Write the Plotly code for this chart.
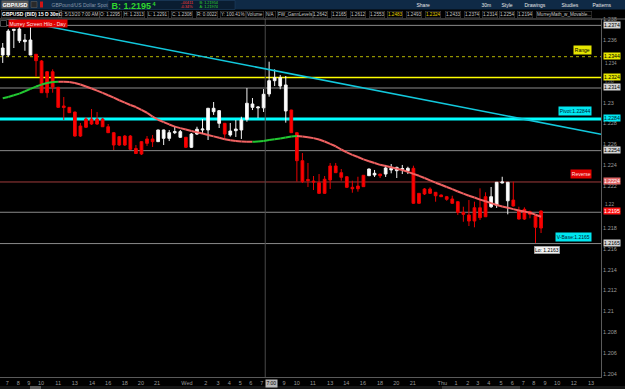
import plotly.graph_objects as go

# ---------------- data (GBP/USD 30m) ----------------
bar_index = list(range(98))
open_ = [1.23456, 1.23456, 1.23691, 1.23593, 1.23584, 1.23456, 1.23463, 1.23399, 1.23296, 1.23296,
         1.23147, 1.22968, 1.22955, 1.22910, 1.22776, 1.22843, 1.22843, 1.22843, 1.22843, 1.22769,
         1.22712, 1.22674, 1.22680, 1.22680, 1.22561, 1.22626, 1.22652, 1.22652, 1.22626, 1.22658,
         1.22658, 1.22712, 1.22668, 1.22668, 1.22572, 1.22699, 1.22738, 1.22738, 1.22913, 1.22802,
         1.22802, 1.22690, 1.22731, 1.22738, 1.22840, 1.22955, 1.22949, 1.22950, 1.23083, 1.23210,
         1.23159, 1.22920, 1.22929, 1.22712, 1.22444, 1.22264, 1.22249, 1.22233, 1.22266, 1.22393,
         1.22393, 1.22329, 1.22290, 1.22189, 1.22201, 1.22304, 1.22300, 1.22307, 1.22316, 1.22316,
         1.22355, 1.22348, 1.22359, 1.22348, 1.22371, 1.22131, 1.22173, 1.22173, 1.22141, 1.22115,
         1.22099, 1.22077, 1.22051, 1.21949, 1.21924, 1.21993, 1.21993, 1.22099, 1.22003, 1.22019,
         1.22230, 1.22060, 1.22067, 1.21962, 1.21978, 1.21955, 1.21914, 1.21962]
high_ = [1.23571, 1.23705, 1.23705, 1.23725, 1.23657, 1.23722, 1.23466, 1.23408, 1.23303, 1.23319,
         1.23150, 1.23054, 1.22958, 1.22913, 1.22805, 1.22862, 1.22939, 1.22910, 1.22853, 1.22795,
         1.22719, 1.22680, 1.22690, 1.22690, 1.22594, 1.22632, 1.22680, 1.22690, 1.22741, 1.22741,
         1.22738, 1.22776, 1.22738, 1.22671, 1.22709, 1.22769, 1.22843, 1.22949, 1.23006, 1.22929,
         1.22805, 1.22805, 1.22834, 1.22865, 1.23140, 1.23044, 1.22961, 1.23130, 1.23392, 1.23319,
         1.23265, 1.23255, 1.22932, 1.22719, 1.22517, 1.22422, 1.22297, 1.22316, 1.22297, 1.22422,
         1.22422, 1.22364, 1.22297, 1.22252, 1.22290, 1.22307, 1.22369, 1.22355, 1.22316, 1.22403,
         1.22412, 1.22386, 1.22403, 1.22386, 1.22396, 1.22134, 1.22182, 1.22189, 1.22144, 1.22120,
         1.22106, 1.22108, 1.22058, 1.22003, 1.22067, 1.22051, 1.22179, 1.22141, 1.22192, 1.22240,
         1.22290, 1.22240, 1.22243, 1.22003, 1.21997, 1.21965, 1.21924, 1.21967]
low_ = [1.23380, 1.23437, 1.23523, 1.23571, 1.23497, 1.23456, 1.23248, 1.23092, 1.23047, 1.23095,
        1.22949, 1.22834, 1.22901, 1.22675, 1.22671, 1.22757, 1.22786, 1.22786, 1.22767, 1.22709,
        1.22546, 1.22585, 1.22585, 1.22546, 1.22508, 1.22498, 1.22585, 1.22575, 1.22623, 1.22594,
        1.22632, 1.22699, 1.22661, 1.22565, 1.22565, 1.22690, 1.22699, 1.22642, 1.22882, 1.22757,
        1.22642, 1.22674, 1.22671, 1.22652, 1.22817, 1.22929, 1.22853, 1.22910, 1.23057, 1.23159,
        1.23128, 1.22808, 1.22709, 1.22243, 1.22230, 1.22192, 1.22163, 1.22125, 1.22125, 1.22173,
        1.22326, 1.22252, 1.22182, 1.22137, 1.22147, 1.22192, 1.22297, 1.22288, 1.22278, 1.22288,
        1.22323, 1.22278, 1.22316, 1.22316, 1.22029, 1.22029, 1.22115, 1.22125, 1.22051, 1.22096,
        1.22060, 1.22029, 1.21924, 1.21859, 1.21818, 1.21806, 1.21876, 1.21904, 1.21991, 1.21991,
        1.22227, 1.21930, 1.22005, 1.21880, 1.21876, 1.21892, 1.21656, 1.21751]
close_ = [1.23523, 1.23686, 1.23702, 1.23705, 1.23600, 1.23600, 1.23402, 1.23095, 1.23095, 1.23147,
          1.22955, 1.22953, 1.22904, 1.22680, 1.22680, 1.22764, 1.22795, 1.22795, 1.22769, 1.22712,
          1.22594, 1.22594, 1.22594, 1.22553, 1.22513, 1.22508, 1.22610, 1.22626, 1.22738, 1.22738,
          1.22712, 1.22722, 1.22722, 1.22572, 1.22699, 1.22745, 1.22747, 1.22946, 1.22946, 1.22923,
          1.22699, 1.22728, 1.22747, 1.22834, 1.22994, 1.22987, 1.22958, 1.23080, 1.23210, 1.23239,
          1.23239, 1.23169, 1.22712, 1.22444, 1.22243, 1.22254, 1.22240, 1.22131, 1.22131, 1.22259,
          1.22329, 1.22285, 1.22189, 1.22175, 1.22175, 1.22195, 1.22364, 1.22323, 1.22300, 1.22374,
          1.22371, 1.22380, 1.22369, 1.22371, 1.22036, 1.22036, 1.22125, 1.22131, 1.22108, 1.22099,
          1.22074, 1.22036, 1.21949, 1.21930, 1.21866, 1.21866, 1.21898, 1.21907, 1.22099, 1.22237,
          1.22240, 1.22237, 1.22010, 1.21885, 1.21885, 1.21930, 1.21806, 1.21799]
moving_avg = [1.23042, 1.23054, 1.23070, 1.23086, 1.23109, 1.23131, 1.23154, 1.23173, 1.23188, 1.23198,
              1.23201, 1.23200, 1.23197, 1.23188, 1.23174, 1.23155, 1.23135, 1.23115, 1.23094, 1.23071,
              1.23048, 1.23023, 1.23000, 1.22977, 1.22958, 1.22930, 1.22903, 1.22866, 1.22836, 1.22813,
              1.22791, 1.22770, 1.22756, 1.22742, 1.22728, 1.22716, 1.22704, 1.22690, 1.22677, 1.22663,
              1.22650, 1.22640, 1.22632, 1.22628, 1.22626, 1.22625, 1.22627, 1.22632, 1.22642, 1.22649,
              1.22656, 1.22665, 1.22675, 1.22680, 1.22676, 1.22669, 1.22660, 1.22647, 1.22628, 1.22605,
              1.22582, 1.22551, 1.22523, 1.22500, 1.22479, 1.22456, 1.22439, 1.22422, 1.22404, 1.22393,
              1.22381, 1.22366, 1.22354, 1.22337, 1.22318, 1.22299, 1.22278, 1.22256, 1.22233, 1.22213,
              1.22192, 1.22171, 1.22149, 1.22128, 1.22108, 1.22091, 1.22071, 1.22055, 1.22037, 1.22019,
              1.22005, 1.21993, 1.21980, 1.21967, 1.21957, 1.21946, 1.21926, 1.21907]

trend_bars = [-0.5, 107.8]
trend_prices = [1.23819, 1.22697]

level_prices = [1.2374, 1.2344, 1.2324, 1.2314, 1.22844, 1.2254, 1.2224, 1.2195, 1.2165]
level_labels = ["1.2374", "1.2344", "1.2324", "1.2314", "1.2284", "1.2254", "1.2224", "1.2195", "1.2165"]

callout_texts = ["Range", "Pivot:1.22844", "Reverse", "V-Base:1.2165"]
callout_prices = [1.2344, 1.22844, 1.2224, 1.2165]
low_label = "Lo: 1.2163"
low_bar = 96

y_tick_values = [1.204, 1.206, 1.208, 1.21, 1.212, 1.214, 1.216, 1.218, 1.22,
                 1.222, 1.224, 1.226, 1.228, 1.23, 1.232, 1.234, 1.236, 1.238]
y_tick_text = ["1.204", "1.206", "1.208", "1.21", "1.212", "1.214", "1.216", "1.218", "1.22",
               "1.222", "1.224", "1.226", "1.228", "1.23", "1.232", "1.234", "1.236", "1.238"]
# tick labels squeezed between level boxes are drawn separately: (size, anchor, shift)
crowded_ticks = {"1.232": (3.6, "middle", 0.2), "1.234": (4.6, "top", 1.5),
                 "1.22": (4.6, "middle", 2.6)}

x_tick_text = ["7", "8", "9", "10", "11", "13", "14", "16", "18", "20", "21", "Wed",
               "2", "3", "4", "5", "6", "7", "9", "10", "11", "13", "14", "16", "18", "20", "21",
               "Thu", "1", "2", "3", "4", "5", "6", "7", "8", "9", "10", "12", "13"]
x_tick_bars = [0.8, 2.8, 4.7, 6.9, 10.0, 13.0, 16.1, 19.0, 22.0, 24.9, 27.8, 33.2,
               36.6, 38.8, 40.8, 42.8, 44.7, 46.7, 50.7, 53.0, 55.9, 59.0, 61.9, 64.9, 68.0, 70.9, 73.9,
               79.2, 81.7, 83.8, 85.6, 87.6, 89.8, 91.8, 93.8, 95.7, 97.7, 99.9, 102.9, 106.0]
cursor_bar = 47.3
cursor_label = "7:00"

header_fields = ["D: 5/13/20 7:00 AM", "O: 1.2295", "H: 1.2313", "L: 1.2291", "C: 1.2308",
                 "R: 0.0022", "Y: 100.41%", "Volume", "N/A", "FW_GannLevels", "1.2642", "1.2165",
                 "1.2612", "1.2553", "1.2483", "1.2493", "1.2324", "1.2433", "1.2374", "1.2314",
                 "1.2254", "1.2194", "MurreyMath_w_Movable..."]

# ---------------- layout helpers (pixel -> paper) ----------------
PLOT_W, PLOT_TOP, PLOT_BOT = 601.0, 19.0, 377.0


def PX(x):
    return x / PLOT_W


def PY(y):
    return (PLOT_BOT - y) / (PLOT_BOT - PLOT_TOP)


FONT = "Liberation Sans, Arial, sans-serif"
GREY_TXT = "#9a9a9a"

fig = go.Figure()

# trend line
fig.add_trace(go.Scatter(x=trend_bars, y=trend_prices, mode="lines",
                         line=dict(color="#12c8dc", width=1.5), hoverinfo="skip", showlegend=False))

# candles
fig.add_trace(go.Candlestick(
    x=bar_index, open=open_, high=high_, low=low_, close=close_,
    increasing=dict(line=dict(color="#f2f2f2", width=1), fillcolor="#ffffff"),
    decreasing=dict(line=dict(color="#e80000", width=1), fillcolor="#ff0000"),
    whiskerwidth=0, showlegend=False, hoverinfo="skip"))

# moving average coloured by slope
gx, gy, rx, ry = [], [], [], []
for i in range(len(moving_avg) - 1):
    seg_x = [bar_index[i], bar_index[i + 1], None]
    seg_y = [moving_avg[i], moving_avg[i + 1], None]
    if moving_avg[i + 1] >= moving_avg[i]:
        gx += seg_x
        gy += seg_y
    else:
        rx += seg_x
        ry += seg_y
fig.add_trace(go.Scatter(x=rx, y=ry, mode="lines", line=dict(color="#f06262", width=2),
                         hoverinfo="skip", showlegend=False, connectgaps=False))
fig.add_trace(go.Scatter(x=gx, y=gy, mode="lines", line=dict(color="#22c832", width=2),
                         hoverinfo="skip", showlegend=False, connectgaps=False))

shapes = []
annotations = []

# level lines
line_style = {
    "1.2374": ("#8a8a8a", 1, "solid"),
    "1.2344": ("#b4b400", 1, "dot"),
    "1.2324": ("#ffff00", 1.5, "solid"),
    "1.2314": ("#8a8a8a", 1, "solid"),
    "1.2284": ("#00ffff", 3, "solid"),
    "1.2254": ("#8a8a8a", 1, "solid"),
    "1.2224": ("#a03c3c", 1, "solid"),
    "1.2195": ("#8a8a8a", 1, "solid"),
    "1.2165": ("#8a8a8a", 1, "solid"),
}
box_style = {
    "1.2374": ("#d4d4d4", "#000000"),
    "1.2344": ("#e6e600", "#000000"),
    "1.2324": ("#e6e600", "#000000"),
    "1.2314": ("#d4d4d4", "#000000"),
    "1.2284": ("#00e6f0", "#002030"),
    "1.2254": ("#d4d4d4", "#000000"),
    "1.2224": ("#e26868", "#ffffff"),
    "1.2195": ("#ff1414", "#ffffff"),
    "1.2165": ("#d4d4d4", "#000000"),
}
for price, lab in zip(level_prices, level_labels):
    col, w, dash = line_style[lab]
    shapes.append(dict(type="line", xref="paper", yref="y", x0=0, x1=1, y0=price, y1=price,
                       line=dict(color=col, width=w, dash=dash), layer="below"))
    bg, fg = box_style[lab]
    annotations.append(dict(x=1, xref="paper", xanchor="left", xshift=2, y=price, yref="y",
                            yanchor="middle", yshift=0.8, text=lab, showarrow=False, bgcolor=bg,
                            borderpad=0, font=dict(size=5.2, color=fg, family=FONT)))

# crowded tick labels, nudged clear of their boxes
tick_text_shown = [("" if t in crowded_ticks else t) for t in y_tick_text]
for v, t in zip(y_tick_values, y_tick_text):
    if t in crowded_ticks:
        size, anchor, shift = crowded_ticks[t]
        annotations.append(dict(x=1, xref="paper", xanchor="left", xshift=2, y=v, yref="y",
                                yanchor=anchor, yshift=shift, text=t, showarrow=False,
                                font=dict(size=size, color=GREY_TXT, family=FONT)))

# callouts
callout_style = [("#e6e600", "#000000", 7), ("#00e6f0", "#002030", 8),
                 ("#e00000", "#ffe0e0", 7.5), ("#00e6f0", "#002030", 6.5)]
for txt, price, (bg, fg, dy) in zip(callout_texts, callout_prices, callout_style):
    annotations.append(dict(x=PX(592), xref="paper", xanchor="right", y=price, yref="y",
                            yanchor="middle", yshift=dy, text=txt, showarrow=False,
                            bgcolor=bg, borderpad=0.8, font=dict(size=5, color=fg, family=FONT)))
annotations.append(dict(x=bar_index[low_bar] - 0.2, xref="x", xanchor="left",
                        y=low_[low_bar], yref="y", yanchor="top", yshift=-3, text=low_label,
                        showarrow=False, bgcolor="#f2f2f2", bordercolor="#888", borderwidth=0.5,
                        borderpad=0.5, font=dict(size=5, color="#000", family=FONT)))

# cursor
shapes.append(dict(type="line", xref="x", yref="paper", x0=cursor_bar, x1=cursor_bar, y0=0, y1=1,
                   line=dict(color="#4a4a4a", width=1), layer="below"))
annotations.append(dict(x=cursor_bar, xref="x", xanchor="left", y=PY(383), yref="paper",
                        yanchor="middle", text=cursor_label, showarrow=False, bgcolor="#b8b8b8",
                        borderpad=0.4, font=dict(size=5, color="#000", family=FONT)))

# frame lines
shapes.append(dict(type="line", xref="paper", yref="paper", x0=0, x1=PX(625), y0=PY(19), y1=PY(19),
                   line=dict(color="#6a6a6a", width=1)))

# header row 1
shapes.append(dict(type="rect", xref="paper", yref="paper", x0=0, x1=PX(625), y0=PY(0), y1=PY(9.5),
                   fillcolor="#0f2a46", line=dict(width=0)))
shapes.append(dict(type="rect", xref="paper", yref="paper", x0=PX(108), x1=PX(235), y0=PY(0.5),
                   y1=PY(9.5), fillcolor="#0a1d31", line=dict(color="#22466a", width=0.5)))
shapes.append(dict(type="rect", xref="paper", yref="paper", x0=PX(31), x1=PX(37), y0=PY(1.5),
                   y1=PY(7.5), fillcolor="#2a2a2a", line=dict(color="#666", width=0.5)))
shapes.append(dict(type="rect", xref="paper", yref="paper", x0=PX(40), x1=PX(43), y0=PY(1.5),
                   y1=PY(7.5), fillcolor="#d01515", line=dict(width=0)))


def hdr(x, y, text, size=5, color="#d0d0d0", bg=None, border=None, bold=False):
    d = dict(x=PX(x), xref="paper", xanchor="left", y=PY(y), yref="paper", yanchor="middle",
             text=text, showarrow=False,
             font=dict(size=size, color=color, family=FONT, weight=("bold" if bold else "normal")),
             borderpad=0.5)
    if bg:
        d["bgcolor"] = bg
    if border:
        d["bordercolor"] = border
        d["borderwidth"] = 0.5
    annotations.append(d)


hdr(1, 4.5, "GBP/USD", 5.5, "#ffffff", bg="#5a5a5a", bold=True)
hdr(50, 4.5, "GBPound/US Dollar Spot", 5, "#8796a6")
hdr(110, 5, "B: 1.2195", 9, "#2fd62f", bold=True)
hdr(150.5, 3.2, "4", 5.5, "#2fd62f", bold=True)
hdr(179, 2.6, "-.00411", 3.8, "#ff3a3a")
hdr(179, 7, "-0.34%", 3.8, "#ff3a3a")
hdr(198, 2.6, "B: 1.21954", 3.8, "#2fd62f")
hdr(198, 7, "A: 1.21974", 3.8, "#2fd62f")
for x, t in [(415, "Share"), (480, "30m"), (500, "Style"), (523, "Drawings"),
             (560, "Studies"), (591, "Patterns")]:
    hdr(x, 4.5, t, 5, "#e8e8e8")

# header row 2
hdr(1, 14, "GBPUSD (BID) 15 D 30m", 5, "#ffffff", border="#555", bold=True)
field_x = [58, 99, 123, 147, 171, 196, 220, 246, 265, 277, 312, 331, 350, 369, 387, 406,
           425, 445, 464, 482, 499, 517, 536]
gann_yellow = {"1.2483", "1.2324"}
for x, t in zip(field_x, header_fields):
    col = "#e6d200" if t in gann_yellow else "#c8c8c8"
    hdr(x, 14, t, 4.6, col, border="#4a4a4a")

# murrey label under header
shapes.append(dict(type="rect", xref="paper", yref="paper", x0=PX(0.5), x1=PX(6.5), y0=PY(20.5),
                   y1=PY(26.5), fillcolor="#000", line=dict(color="#777", width=0.6)))
hdr(8, 23.5, "Murrey Screen Hilo - Day", 5, "#ffe0e0", bg="#e00000")

# bottom scroll strip
shapes.append(dict(type="rect", xref="paper", yref="paper", x0=0, x1=PX(625), y0=PY(386),
                   y1=PY(389.5), fillcolor="#161616", line=dict(width=0)))
shapes.append(dict(type="rect", xref="paper", yref="paper", x0=PX(30), x1=PX(41), y0=PY(386),
                   y1=PY(389.5), fillcolor="#5a5a5a", line=dict(width=0)))
shapes.append(dict(type="rect", xref="paper", yref="paper", x0=PX(442), x1=PX(520), y0=PY(386),
                   y1=PY(389.5), fillcolor="#3a3a3a", line=dict(width=0)))

fig.update_layout(
    width=625, height=389,
    margin=dict(l=0, r=24, t=19, b=12),
    paper_bgcolor="#000000", plot_bgcolor="#000000",
    font=dict(family=FONT, color=GREY_TXT, size=5.5),
    showlegend=False,
    shapes=shapes, annotations=annotations,
    xaxis=dict(range=[-0.49, 107.8], tickvals=x_tick_bars, ticktext=x_tick_text,
               tickfont=dict(size=5.5, color=GREY_TXT), showgrid=False, zeroline=False,
               showline=True, linecolor="#5a5a5a", linewidth=1, ticks="",
               rangeslider=dict(visible=False), fixedrange=True),
    yaxis=dict(range=[1.20372, 1.23801], side="right", tickvals=y_tick_values, ticktext=tick_text_shown,
               tickfont=dict(size=5.5, color=GREY_TXT), showgrid=False, zeroline=False,
               showline=True, linecolor="#5a5a5a", linewidth=1, ticks="", fixedrange=True),
)

fig.write_html("out.html")
